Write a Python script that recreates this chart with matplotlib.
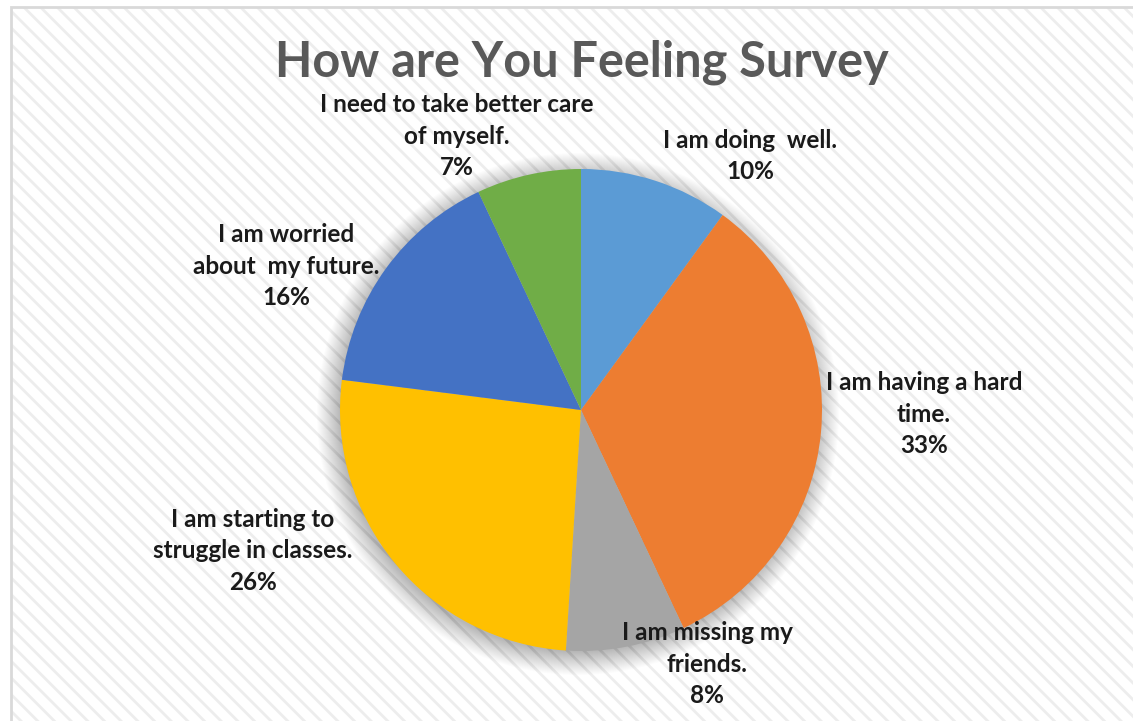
import matplotlib
matplotlib.use("Agg")
import matplotlib.pyplot as plt
from matplotlib.patches import Rectangle, Circle

categories = [
    "I am doing  well.",
    "I am having a hard\ntime.",
    "I am missing my\nfriends.",
    "I am starting to\nstruggle in classes.",
    "I am worried\nabout  my future.",
    "I need to take better care\nof myself.",
]
values = [10, 33, 8, 26, 16, 7]
colors = ["#5B9BD5", "#ED7D31", "#A5A5A5", "#FFC000", "#4472C4", "#70AD47"]
title = "How are You Feeling Survey"

# label block centres in pixel coordinates (x, y from top)
label_pos = [(750, 156), (924, 414), (707, 664), (253, 551), (286, 266), (457, 136)]

W, H = 1133, 721
fig = plt.figure(figsize=(W / 100, H / 100), dpi=100)
ax = fig.add_axes([0, 0, 1, 1])
ax.set_xlim(0, W)
ax.set_ylim(0, H)
ax.set_aspect("equal")
ax.axis("off")

# background with hatch
matplotlib.rcParams["hatch.linewidth"] = 2.0
matplotlib.rcParams["hatch.color"] = "#ededed"
bg = Rectangle((11, -20), W + 20, H - 7 + 20, facecolor="white",
               edgecolor="#ededed", hatch="\\\\", lw=0, zorder=0)
ax.add_patch(bg)
border = Rectangle((11, -20), W + 20, H - 7 + 20, facecolor="none",
                   edgecolor="#d9d9d9", lw=2, zorder=1)
ax.add_patch(border)

cx, cy, r = 581, H - 410, 241

# soft shadow
n = 24
for i in range(n):
    ax.add_patch(Circle((cx - 3, cy - 4), r + 20 - i * 1.0, facecolor="#000000",
                        alpha=0.01, lw=0, zorder=2))

ax.pie(values, colors=colors, startangle=90, counterclock=False,
       center=(cx, cy), radius=r, wedgeprops=dict(lw=0, zorder=3),
       frame=True)
ax.set_xlim(0, W)
ax.set_ylim(0, H)
ax.axis("off")

font = "Lato"
for cat, v, (x, y) in zip(categories, values, label_pos):
    ax.text(x, H - y, f"{cat}\n{v}%", ha="center", va="center",
            fontsize=17.5, family=font, weight="bold", color="#1a1a1a",
            linespacing=1.45, zorder=5)

ax.text(582, H - 62, title, ha="center", va="center", fontsize=35,
        family=font, weight="bold", color="#595959", zorder=5)

fig.savefig("out.png", dpi=100)
